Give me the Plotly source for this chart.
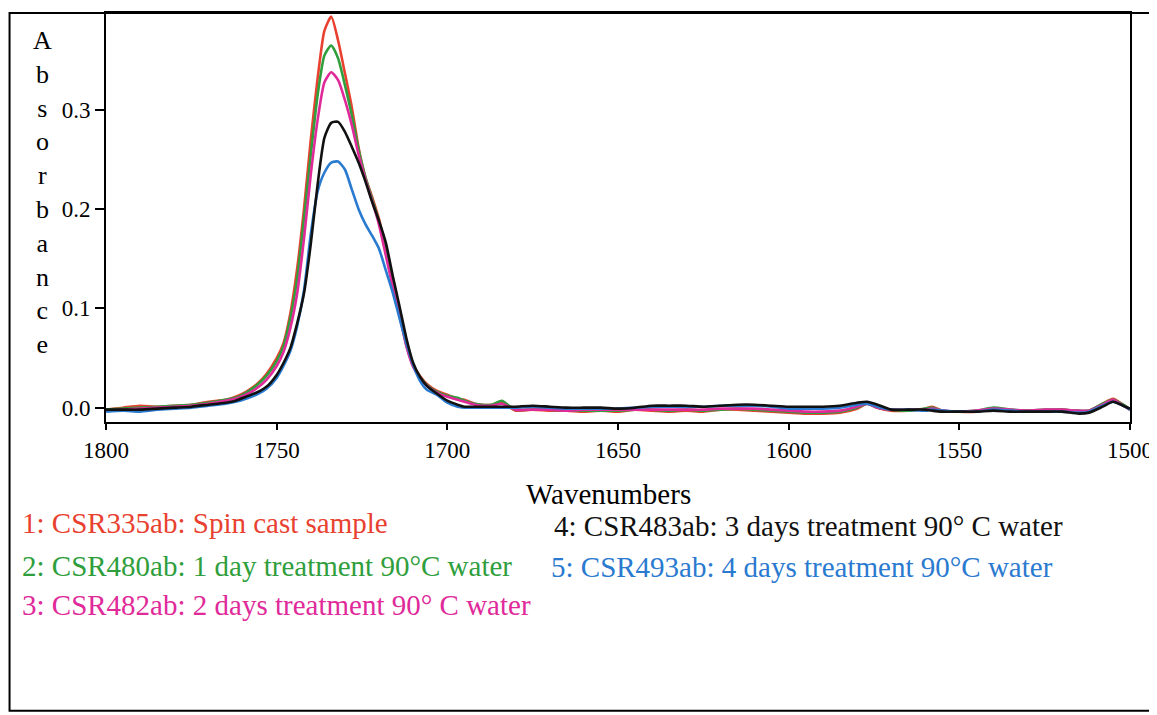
import plotly.graph_objects as go

wavenumbers = [1800, 1795, 1790, 1785, 1780, 1775, 1770, 1765, 1762, 1759,
               1756, 1753, 1750, 1748, 1746, 1744, 1742, 1740, 1738, 1736,
               1734, 1732, 1730, 1728, 1726, 1724, 1722, 1720, 1718, 1716,
               1714, 1712, 1710, 1708, 1706, 1703, 1700, 1697, 1695, 1692,
               1690, 1687, 1684, 1682, 1680, 1675, 1670, 1665, 1660, 1655,
               1650, 1645, 1640, 1635, 1630, 1625, 1620, 1615, 1610, 1605,
               1600, 1595, 1590, 1585, 1580, 1577, 1574, 1570, 1565, 1560,
               1558, 1555, 1550, 1545, 1540, 1535, 1530, 1525, 1520, 1515,
               1512, 1508, 1505, 1502, 1500]

abs_csr335 = [-0.002, 0.000, 0.002, 0.001, 0.002, 0.003, 0.006, 0.008, 0.011, 0.016,
              0.023, 0.034, 0.050, 0.065, 0.095, 0.140, 0.200, 0.270, 0.332, 0.380,
              0.394, 0.370, 0.337, 0.303, 0.262, 0.232, 0.212, 0.190, 0.158, 0.125,
              0.097, 0.064, 0.043, 0.032, 0.024, 0.017, 0.013, 0.009, 0.008, 0.004,
              0.003, 0.003, 0.006, 0.001, -0.003, -0.002, -0.003, -0.003, -0.004, -0.003,
              -0.004, -0.002, -0.003, -0.004, -0.003, -0.004, -0.002, -0.002, -0.003, -0.004,
              -0.005, -0.006, -0.006, -0.005, -0.001, 0.004, 0.000, -0.003, -0.003, -0.001,
              0.001, -0.003, -0.004, -0.004, -0.001, -0.003, -0.003, -0.003, -0.002, -0.004,
              -0.003, 0.004, 0.009, 0.003, -0.002]

abs_csr480 = [-0.002, -0.001, 0.000, 0.001, 0.002, 0.003, 0.005, 0.008, 0.010, 0.015,
              0.022, 0.032, 0.047, 0.062, 0.090, 0.130, 0.190, 0.255, 0.315, 0.355,
              0.365, 0.352, 0.325, 0.295, 0.260, 0.232, 0.210, 0.187, 0.156, 0.124,
              0.095, 0.063, 0.042, 0.031, 0.023, 0.016, 0.012, 0.010, 0.007, 0.004,
              0.003, 0.003, 0.007, 0.002, -0.002, -0.002, -0.002, -0.003, -0.003, -0.003,
              -0.003, -0.002, -0.002, -0.003, -0.002, -0.003, -0.002, -0.001, -0.002, -0.003,
              -0.004, -0.005, -0.005, -0.004, 0.000, 0.004, 0.000, -0.002, -0.003, -0.001,
              0.000, -0.003, -0.004, -0.003, 0.000, -0.002, -0.003, -0.002, -0.002, -0.003,
              -0.003, 0.004, 0.008, 0.003, -0.002]

abs_csr482 = [-0.003, -0.002, -0.001, 0.000, 0.001, 0.002, 0.004, 0.007, 0.009, 0.013,
              0.019, 0.028, 0.042, 0.056, 0.080, 0.115, 0.170, 0.235, 0.290, 0.328,
              0.338, 0.330, 0.310, 0.285, 0.255, 0.230, 0.208, 0.184, 0.153, 0.122,
              0.093, 0.062, 0.041, 0.030, 0.022, 0.015, 0.011, 0.008, 0.006, 0.003,
              0.002, 0.002, 0.004, 0.001, -0.002, -0.002, -0.002, -0.003, -0.002, -0.002,
              -0.002, -0.002, -0.002, -0.002, -0.002, -0.002, -0.001, -0.001, -0.001, -0.002,
              -0.003, -0.004, -0.004, -0.003, 0.001, 0.004, 0.000, -0.002, -0.002, -0.002,
              -0.001, -0.003, -0.004, -0.003, -0.001, -0.002, -0.003, -0.002, -0.002, -0.003,
              -0.003, 0.003, 0.008, 0.002, -0.002]

abs_csr483 = [-0.002, -0.002, -0.002, -0.001, 0.000, 0.001, 0.003, 0.005, 0.007, 0.011,
              0.015, 0.021, 0.033, 0.045, 0.060, 0.085, 0.115, 0.165, 0.225, 0.272,
              0.287, 0.288, 0.278, 0.263, 0.247, 0.228, 0.207, 0.188, 0.166, 0.133,
              0.102, 0.070, 0.045, 0.031, 0.022, 0.014, 0.007, 0.003, 0.001, 0.001,
              0.001, 0.001, 0.001, 0.001, 0.001, 0.002, 0.001, 0.000, 0.000, 0.000,
              -0.001, 0.000, 0.002, 0.002, 0.002, 0.001, 0.002, 0.003, 0.003, 0.002,
              0.001, 0.001, 0.001, 0.002, 0.005, 0.006, 0.003, -0.002, -0.002, -0.002,
              -0.003, -0.004, -0.004, -0.004, -0.003, -0.004, -0.004, -0.004, -0.004, -0.006,
              -0.005, 0.001, 0.006, 0.002, -0.001]

abs_csr493 = [-0.004, -0.003, -0.004, -0.002, -0.001, 0.000, 0.002, 0.004, 0.006, 0.009,
              0.013, 0.019, 0.030, 0.042, 0.057, 0.082, 0.118, 0.175, 0.218, 0.237,
              0.247, 0.248, 0.240, 0.220, 0.200, 0.185, 0.173, 0.160, 0.138, 0.116,
              0.090, 0.065, 0.043, 0.027, 0.018, 0.013, 0.005, 0.001, 0.000, 0.000,
              0.000, 0.000, 0.000, 0.000, 0.000, 0.001, 0.000, -0.001, -0.001, -0.001,
              -0.001, 0.000, 0.001, 0.001, 0.001, 0.001, 0.002, 0.002, 0.002, 0.001,
              -0.001, -0.001, -0.001, 0.000, 0.003, 0.004, 0.001, -0.002, -0.002, -0.003,
              -0.002, -0.003, -0.004, -0.004, -0.002, -0.003, -0.004, -0.004, -0.004, -0.005,
              -0.004, 0.002, 0.006, 0.002, -0.002]

series_labels = [
    "1: CSR335ab: Spin cast sample",
    "2: CSR480ab: 1 day treatment 90°C water",
    "3: CSR482ab: 2 days treatment 90° C water",
    "4: CSR483ab: 3 days treatment 90° C water",
    "5: CSR493ab: 4 days treatment 90°C water",
]
series_colors = ["#e8412f", "#2f9e3c", "#e02a9a", "#111111", "#2a7ad0"]
x_ticks = [1800, 1750, 1700, 1650, 1600, 1550, 1500]
y_ticks = [0.0, 0.1, 0.2, 0.3]

series_values = [abs_csr335, abs_csr480, abs_csr482, abs_csr493, abs_csr483]
draw_order = [0, 1, 2, 4, 3]

fig = go.Figure()
for k, vals in zip(draw_order, series_values):
    assert len(vals) == len(wavenumbers)
    fig.add_trace(go.Scatter(
        x=wavenumbers, y=vals, mode="lines",
        line=dict(color=series_colors[k], width=2.6, shape="spline", smoothing=0.6),
        name=series_labels[k], showlegend=False, hoverinfo="skip"))

serif = "Liberation Serif"

# page has an 8px body margin: figure sized to fit the window
fig.update_layout(
    width=1149, height=707,
    margin=dict(l=98, r=27, t=3, b=293),
    paper_bgcolor="white", plot_bgcolor="white",
    font=dict(family=serif, color="black"),
    showlegend=False,
)
fig.update_xaxes(
    range=[1800, 1500], tickvals=x_ticks, ticktext=[str(t) for t in x_ticks],
    showgrid=False, zeroline=False, showline=True, linecolor="black", linewidth=2,
    mirror=True, ticks="outside", ticklen=6, tickwidth=1.5, tickcolor="black",
    tickfont=dict(family=serif, size=23, color="black"),
)
fig.update_yaxes(
    range=[-0.01444, 0.3977], tickvals=y_ticks, ticktext=["%.1f" % t for t in y_ticks],
    showgrid=False, zeroline=False, showline=True, linecolor="black", linewidth=2,
    mirror=True, ticks="outside", ticklen=9, tickwidth=1.5, tickcolor="black",
    tickfont=dict(family=serif, size=23, color="black"),
)

# outer frame
fig.add_shape(type="rect", xref="paper", yref="paper",
              x0=-0.0942, x1=1.0244, y0=-0.706, y1=1.0,
              line=dict(color="black", width=2), fillcolor="rgba(0,0,0,0)")

# y-axis title (stacked letters)
fig.add_annotation(xref="paper", yref="paper", x=-0.0625, y=0.56,
                   text="<br>".join(list("Absorbance")), showarrow=False,
                   font=dict(family=serif, size=26, color="black"),
                   xanchor="center", yanchor="middle", align="center")

# x-axis title
fig.add_annotation(xref="paper", yref="paper", x=0.4905, y=-0.175,
                   text="Wavenumbers", showarrow=False,
                   font=dict(family=serif, size=29, color="black"),
                   xanchor="center", yanchor="middle")

# legend text (positions in screen px)
legend_pos = [(20, 523), (20, 566), (20, 606), (552, 526), (549, 567)]
for k, (px, py) in enumerate(legend_pos):
    fig.add_annotation(xref="paper", yref="paper",
                       x=(px - 106) / 1024, y=(421.7 - py) / 411,
                       text=series_labels[k], showarrow=False,
                       font=dict(family=serif, size=29, color=series_colors[k]),
                       xanchor="left", yanchor="middle")

fig.write_html("out.html")
